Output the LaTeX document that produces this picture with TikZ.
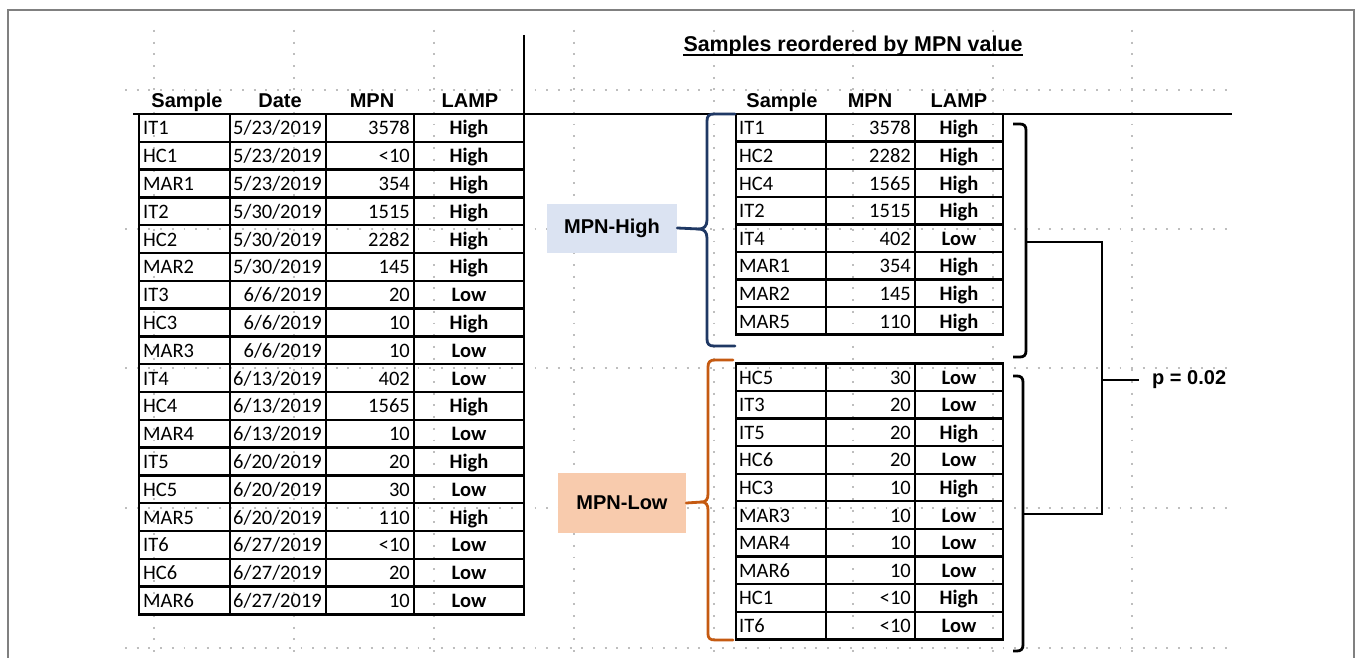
\documentclass[tikz,border=0pt]{standalone}
\usepackage{fontspec}
\setmainfont{Carlito}
\newfontfamily\arialfont{Liberation Sans}

\definecolor{gridgray}{RGB}{190,190,190}
\definecolor{framegray}{RGB}{128,128,128}
\definecolor{highfill}{RGB}{219,227,242}
\definecolor{lowfill}{RGB}{248,203,173}
\definecolor{highline}{RGB}{31,56,100}
\definecolor{lowline}{RGB}{197,90,17}

\begin{document}
\begin{tikzpicture}[x=1pt,y=-1pt,
  gridline/.style={gridgray, line width=1.9pt, dash pattern=on 1.9pt off 9.8pt},
  rule/.style={black, line width=2.3pt},
  outline/.style={black, line width=2.8pt},
  hdr/.style={font=\arialfont\bfseries\fontsize{20}{24}\selectfont, anchor=base, inner sep=0pt},
  titletext/.style={font=\arialfont\bfseries\fontsize{21.4}{25}\selectfont, anchor=base, inner sep=0pt},
  cellL/.style={font=\fontsize{20.5}{24}\selectfont, anchor=base west, inner sep=0pt},
  cellR/.style={font=\fontsize{20.5}{24}\selectfont, anchor=base east, inner sep=0pt},
  cellC/.style={font=\bfseries\fontsize{20.5}{24}\selectfont, anchor=base, inner sep=0pt},
  groupbox/.style={font=\arialfont\bfseries\fontsize{20}{24}\selectfont, inner sep=0pt, anchor=center},
  highbrace/.style={highline, line width=2.8pt, line cap=round},
  lowbrace/.style={lowline, line width=2.8pt, line cap=round},
  bracket/.style={black, line width=2.8pt}
]
\useasboundingbox (0,0) rectangle (1358,658);
\fill[white] (0,0) rectangle (1358,658);

% outer frame
\draw[framegray, line width=2pt] (8,658) -- (8,10) -- (1354,10) -- (1354,658);

% dotted sheet grid
\foreach \gy in {90,229,368,508,648}
  \draw[gridline] (125,\gy) -- (1232,\gy);
\foreach \gx in {154,294,434,574,714,853,993,1132}
  \draw[gridline] (\gx,30) -- (\gx,658);

% ---------- left table: all samples by date ----------
\node[hdr] (Lh-s) at (187,108) {Sample};
\node[hdr] (Lh-d) at (280,108) {Date};
\node[hdr] (Lh-m) at (372,108) {MPN};
\node[hdr] (Lh-l) at (470,108) {LAMP};

\foreach \k in {1,...,17}
  \draw[rule] (139,{114+27.8*\k}) -- (524,{114+27.8*\k});
\foreach \cx in {230,326,414}
  \draw[rule] (\cx,114) -- (\cx,614.4);
\draw[outline] (139,114) rectangle (524,614.4);
% column divider between the two halves
\draw[outline] (524,35) -- (524,614.4);
% header rule across the sheet
\draw[rule] (133,114) -- (1232,114);

\foreach \s/\d/\m/\l [count=\k from 0] in {
  IT1/{5/23/2019}/3578/High,
  HC1/{5/23/2019}/<10/High,
  MAR1/{5/23/2019}/354/High,
  IT2/{5/30/2019}/1515/High,
  HC2/{5/30/2019}/2282/High,
  MAR2/{5/30/2019}/145/High,
  IT3/{6/6/2019}/20/Low,
  HC3/{6/6/2019}/10/High,
  MAR3/{6/6/2019}/10/Low,
  IT4/{6/13/2019}/402/Low,
  HC4/{6/13/2019}/1565/High,
  MAR4/{6/13/2019}/10/Low,
  IT5/{6/20/2019}/20/High,
  HC5/{6/20/2019}/30/Low,
  MAR5/{6/20/2019}/110/High,
  IT6/{6/27/2019}/<10/Low,
  HC6/{6/27/2019}/20/Low,
  MAR6/{6/27/2019}/10/Low}{
  \pgfmathsetmacro\yb{127.9+27.8*\k+7}
  \node[cellL] (L-\k-s) at (143,\yb) {\s};
  \node[cellR] (L-\k-d) at (322,\yb) {\d};
  \node[cellR] (L-\k-m) at (410,\yb) {\m};
  \node[cellC] (L-\k-l) at (469,\yb) {\l};
}

% ---------- right side: samples sorted by MPN ----------
\node[titletext] (title) at (853,52) {Samples reordered by MPN value};
\draw[black, line width=1.7pt] ([yshift=-2.8pt]title.base west) -- ([yshift=-2.8pt]title.base east);

\node[hdr] (Rh-s) at (782,108) {Sample};
\node[hdr] (Rh-m) at (870,108) {MPN};
\node[hdr] (Rh-l) at (959,108) {LAMP};

% upper block (MPN-High)
\foreach \k in {1,...,7}
  \draw[rule] (736,{114+27.6*\k}) -- (1003,{114+27.6*\k});
\foreach \cx in {826,915}
  \draw[rule] (\cx,114) -- (\cx,334.8);
\draw[outline] (736,114) rectangle (1003,334.8);

\foreach \s/\m/\l [count=\k from 0] in {
  IT1/3578/High, HC2/2282/High, HC4/1565/High, IT2/1515/High,
  IT4/402/Low, MAR1/354/High, MAR2/145/High, MAR5/110/High}{
  \pgfmathsetmacro\yb{127.8+27.6*\k+7}
  \node[cellL] (H-\k-s) at (739,\yb) {\s};
  \node[cellR] (H-\k-m) at (911,\yb) {\m};
  \node[cellC] (H-\k-l) at (959,\yb) {\l};
}

% lower block (MPN-Low)
\foreach \k in {1,...,9}
  \draw[rule] (736,{363.3+27.6*\k}) -- (1003,{363.3+27.6*\k});
\foreach \cx in {826,915}
  \draw[rule] (\cx,363.3) -- (\cx,639.3);
\draw[outline] (736,363.3) rectangle (1003,639.3);

\foreach \s/\m/\l [count=\k from 0] in {
  HC5/30/Low, IT3/20/Low, IT5/20/High, HC6/20/Low, HC3/10/High,
  MAR3/10/Low, MAR4/10/Low, MAR6/10/Low, HC1/<10/High, IT6/<10/Low}{
  \pgfmathsetmacro\yb{377.1+27.6*\k+7}
  \node[cellL] (W-\k-s) at (739,\yb) {\s};
  \node[cellR] (W-\k-m) at (911,\yb) {\m};
  \node[cellC] (W-\k-l) at (959,\yb) {\l};
}

% group labels
\node[groupbox, fill=highfill, minimum width=130pt, minimum height=49pt] (hibox) at (612,228) {MPN-High};
\node[groupbox, fill=lowfill, minimum width=128pt, minimum height=60pt] (lobox) at (622,503) {MPN-Low};

% curly braces joining labels to their blocks
\coordinate (hitip) at (699,229);
\draw[highbrace] (735,114) -- (714,114) .. controls (709,114) and (707,116) .. (707,121)
  -- (707,220) .. controls (707,226) and (704,229) .. (hitip)
  .. controls (704,229) and (707,232) .. (707,238)
  -- (707,339) .. controls (707,344) and (709,346) .. (714,346) -- (735,346);
\draw[highbrace] (hibox.east) -- (hitip);

\coordinate (lotip) at (702,502);
\draw[lowbrace] (733,360) -- (715,360) .. controls (710,360) and (708,362) .. (708,367)
  -- (708,494) .. controls (708,499) and (706,502) .. (lotip)
  .. controls (706,502) and (708,505) .. (708,510)
  -- (708,634) .. controls (708,638) and (710,640) .. (715,640) -- (733,640);
\draw[lowbrace] (lobox.east) -- (lotip);

% square brackets and the comparison
\draw[bracket] (1013,124) -- (1020,124) .. controls (1024,124) and (1026,126) .. (1026,130)
  -- (1026,351) .. controls (1026,355) and (1024,357) .. (1020,357) -- (1013,357);
\draw[bracket] (1013,376) -- (1017,376) .. controls (1021,376) and (1023,378) .. (1023,382)
  -- (1023,645) .. controls (1023,649) and (1021,651) .. (1017,651) -- (1013,651);

\coordinate (upmid) at (1026,242);
\coordinate (lomid) at (1023,514);
\coordinate (joinhi) at (1102,242);
\coordinate (joinlo) at (1102,514);
\coordinate (pjoin) at (1102,380);
\node[groupbox, anchor=west] (pval) at (1152,380) {p = 0.02};

\draw[bracket] (upmid) -- (joinhi) -- (joinlo) -- (lomid);
\draw[bracket] (pjoin) -- ([xshift=-13pt]pval.west);
\end{tikzpicture}
\end{document}
